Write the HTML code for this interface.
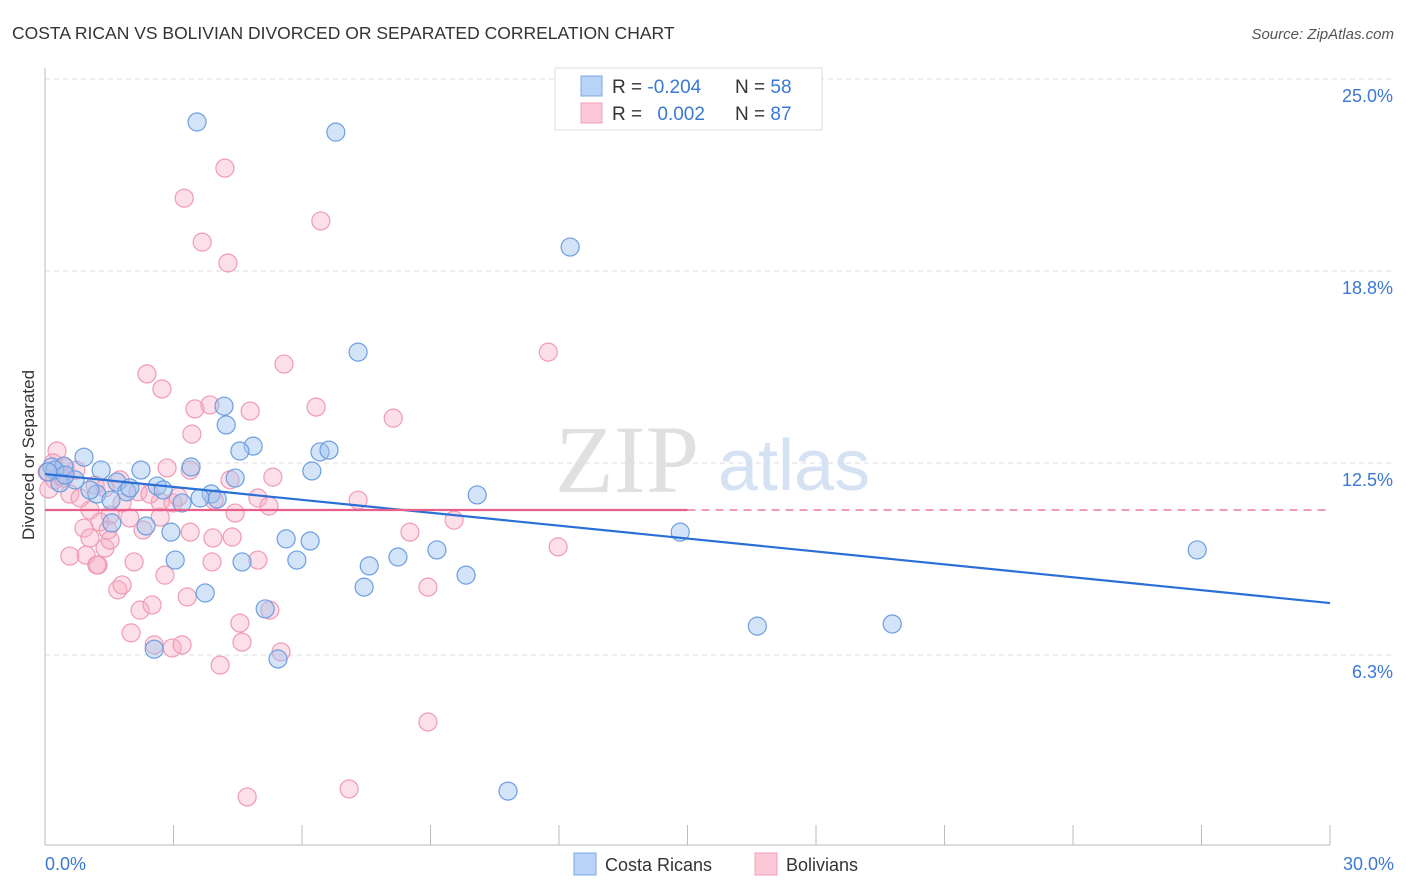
<!DOCTYPE html>
<html><head><meta charset="utf-8"><style>
body{margin:0;background:#fff;font-family:"Liberation Sans",sans-serif;}
svg{display:block}
</style></head><body>
<svg id="chart" width="1406" height="892">
<text x="12" y="39" font-size="17.5" fill="#333">COSTA RICAN VS BOLIVIAN DIVORCED OR SEPARATED CORRELATION CHART</text>
<text x="1394" y="39" font-size="15" fill="#555" font-style="italic" text-anchor="end">Source: ZipAtlas.com</text>
<text transform="translate(34,455) rotate(-90)" font-size="17" fill="#333" text-anchor="middle">Divorced or Separated</text>
<g id="grid"></g>
<text x="555" y="492" font-size="96" fill="#e0e0e0" font-family="Liberation Serif,serif">ZIP</text>
<text x="718" y="490" font-size="72" fill="#d4e2f4">atlas</text>
<g id="axes"></g>
<g id="points"></g>
<g id="trends"></g>
<g>
<rect x="555" y="68" width="267" height="62" fill="#fff" stroke="#ddd"/>
<rect x="581" y="76" width="21" height="20" fill="#b8d3f5" stroke="#7aa8e4"/>
<rect x="581" y="103" width="21" height="20" fill="#fcc8d7" stroke="#f0a0b8"/>
<text x="612" y="93" font-size="19" fill="#333">R = <tspan fill="#3a78d4">-0.204</tspan></text>
<text x="735" y="93" font-size="19" fill="#333">N = <tspan fill="#3a78d4">58</tspan></text>
<text x="612" y="120" font-size="19" fill="#333">R = <tspan fill="#3a78d4" dx="10">0.002</tspan></text>
<text x="735" y="120" font-size="19" fill="#333">N = <tspan fill="#3a78d4">87</tspan></text>
</g>
<g>
<rect x="574" y="853" width="22" height="22" fill="#b8d3f5" stroke="#7aa8e4"/>
<text x="605" y="871" font-size="18" fill="#333">Costa Ricans</text>
<rect x="755" y="853" width="22" height="22" fill="#fcc8d7" stroke="#f0a0b8"/>
<text x="786" y="871" font-size="18" fill="#333">Bolivians</text>
</g>
</svg>
<script>
const yTicks=[6.25,12.5,18.75,25];
const yTickLabels=["6.3%","12.5%","18.8%","25.0%"];
const xTickLabels=["0.0%","30.0%"];
const blueX=[3.55,6.79,12.26,7.31,4.18,4.23,4.86,4.55,6.42,6.63,0.91,1.31,2.24,3.41,4.44,6.23,0.16,0.44,1.68,2.62,2.76,3.88,4.02,3.20,1.21,1.91,1.54,10.09,14.83,2.36,2.94,5.63,6.19,1.56,3.04,4.60,5.88,9.15,8.24,7.57,9.83,7.45,3.74,5.14,2.55,5.44,16.63,19.78,26.90,10.81,0.23,0.70,0.35,1.05,0.47,0.07,1.98,3.62];
const blueY=[23.6,23.27,19.53,16.11,14.35,13.74,13.05,12.89,12.86,12.92,12.69,12.27,12.27,12.37,12.01,12.24,12.37,12.40,11.88,11.75,11.62,11.49,11.33,11.20,11.49,11.56,11.29,11.46,10.25,10.45,10.25,10.03,9.96,10.55,9.34,9.28,9.34,9.67,9.44,9.15,8.85,8.46,8.27,7.75,6.44,6.12,7.19,7.26,9.67,1.82,12.27,11.95,11.85,11.62,12.11,12.21,11.69,11.36];
const pinkX=[4.20,3.25,6.44,3.67,4.27,11.75,5.58,2.38,2.73,3.85,3.50,4.79,6.33,8.13,3.43,0.28,2.85,5.32,0.72,7.31,4.97,3.95,5.23,4.44,8.52,9.55,8.94,11.98,0.44,0.58,1.17,1.40,2.17,2.69,2.99,1.80,1.05,1.52,1.98,1.28,2.29,2.69,3.39,3.92,4.37,1.47,0.91,0.58,0.96,1.24,1.40,1.70,2.08,2.80,1.21,1.80,2.22,2.50,3.32,3.90,4.97,5.25,4.55,2.01,2.55,2.97,3.20,4.60,4.09,5.51,8.94,4.72,7.10,0.09,0.23,0.40,0.19,0.05,0.82,1.75,2.45,3.11,4.32,0.47,3.39,1.52,1.05];
const pinkY=[22.10,21.12,20.38,19.69,19.01,16.11,15.72,15.40,14.91,14.39,14.26,14.19,14.32,13.96,13.44,12.89,12.34,12.04,12.27,11.29,11.36,11.29,11.10,10.87,10.25,10.64,8.46,9.77,12.01,11.49,11.78,11.69,11.56,11.23,11.20,11.20,10.97,10.81,10.71,10.58,10.32,10.74,10.25,10.06,10.09,10.32,10.38,9.47,9.50,9.18,9.73,8.37,9.28,8.85,9.18,8.53,7.71,7.88,8.14,9.28,9.34,7.71,7.29,6.97,6.58,6.48,6.58,6.67,5.92,6.35,4.07,1.63,1.89,11.65,11.95,12.08,12.50,12.21,11.36,11.95,11.49,11.39,11.95,12.34,12.27,9.99,10.06];
const blueTrend=[12.14,7.94];
const pinkTrend=[10.97,10.97];
const NS="http://www.w3.org/2000/svg";
const X0=45,X1=1330,XMAX=30,Y0=847,YK=30.72;
function sx(v){return X0+(v/XMAX)*(X1-X0);}
function sy(v){return Y0-v*YK;}
function mk(tag,attrs,parent){const e=document.createElementNS(NS,tag);for(const k in attrs)e.setAttribute(k,attrs[k]);parent.appendChild(e);return e;}
const grid=document.getElementById('grid'),axes=document.getElementById('axes');
yTicks.forEach((t,i)=>{
 const l=mk('line',{x1:X0,x2:1394,y1:sy(t),y2:sy(t),stroke:'#ddd','stroke-dasharray':'5,4'},grid);
 
 
 const tx=mk('text',{x:1393,y:sy(t)+23,'font-size':18,fill:'#3a78d4','text-anchor':'end'},axes);
 tx.textContent=yTickLabels[i];
 
 
});
const la=mk('line',{x1:X0,x2:X0,y1:68,y2:845,stroke:'#bbb'},axes);


const ba=mk('line',{x1:X0,x2:1330,y1:845,y2:845,stroke:'#bbb'},axes);


for(let v=0;v<=30;v+=3){
 const t=mk('line',{x1:sx(v),x2:sx(v),y1:825,y2:845,stroke:'#bbb'},axes);
 
 
}
const xl0=mk('text',{x:45,y:870,'font-size':18,fill:'#3a78d4'},axes);xl0.textContent=xTickLabels[0];


const xl1=mk('text',{x:1394,y:870,'font-size':18,fill:'#3a78d4','text-anchor':'end'},axes);xl1.textContent=xTickLabels[1];


const pts=document.getElementById('points');
pinkX.forEach((x,i)=>{
 const c=mk('circle',{cx:sx(x),cy:sy(pinkY[i]),r:9,fill:'rgba(248,175,198,0.4)',stroke:'#f09ab4','stroke-width':1.2},pts);
 
 
});
blueX.forEach((x,i)=>{
 const c=mk('circle',{cx:sx(x),cy:sy(blueY[i]),r:9,fill:'rgba(160,196,240,0.45)',stroke:'#6c9ee0','stroke-width':1.2},pts);
 
 
});
const tr=document.getElementById('trends');
const bt=mk('line',{x1:sx(0),y1:sy(blueTrend[0]),x2:sx(30),y2:sy(blueTrend[1]),stroke:'#2a6fd6','stroke-width':2.2},tr);


const pm=pinkTrend[0]+(pinkTrend[1]-pinkTrend[0])*0.5;
const pt=mk('line',{x1:sx(0),y1:sy(pinkTrend[0]),x2:sx(15),y2:sy(pm),stroke:'#e8608a','stroke-width':2.2},tr);


const pd=mk('line',{x1:sx(15),y1:sy(pm),x2:sx(30),y2:sy(pinkTrend[1]),stroke:'#e8608a','stroke-width':1.2,'stroke-dasharray':'8,6'},tr);


</script>
</body></html>
